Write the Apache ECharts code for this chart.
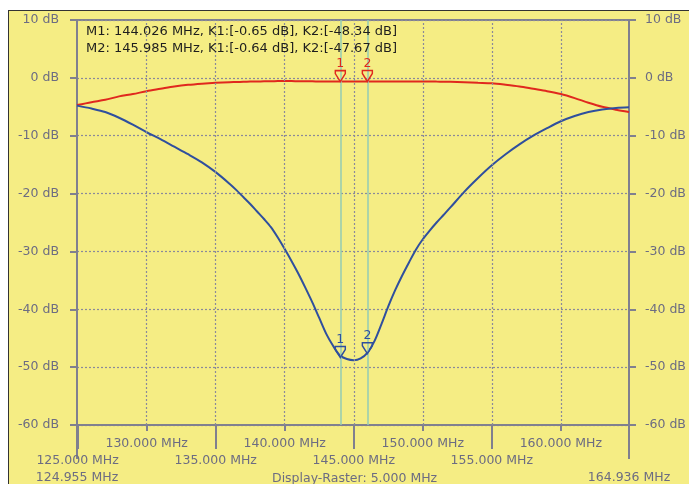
<!DOCTYPE html>
<html>
<head>
<meta charset="utf-8">
<script src="https://cdn.jsdelivr.net/npm/echarts@6/dist/echarts.min.js"></script>
<style>
  html, body { margin: 0; padding: 0; background: #fff; }
  #frame { position: absolute; left: 8px; top: 10px; width: 681px; height: 474px;
           background: #f5ed84; border-top: 1px solid #333; border-left: 1px solid #333; }
  #main { position: absolute; left: 0; top: 0; width: 689px; height: 484px; }
</style>
</head>
<body>
<div id="frame"></div>
<div id="main"></div>
<script>
// frequency points (MHz)
var freqs = [124.955, 126, 127, 128, 129, 130, 131, 132, 133, 134, 135,
             136, 136.5, 137, 137.5, 138, 138.5, 139, 139.5, 140, 140.5, 141, 141.5, 142, 142.5, 143, 143.5,
             144, 144.5, 145, 145.5, 146, 146.5, 147, 147.5, 148, 148.5, 149, 149.5, 150, 150.5, 151, 151.5, 152,
             153, 154, 155, 156, 157, 158, 159, 160, 161, 162, 163, 164, 164.936];
// K1 (red) transmission, dB
var k1 = [-4.7, -4.2, -3.8, -3.2, -2.8, -2.3, -1.9, -1.5, -1.2, -1.0, -0.85,
          -0.75, -0.72, -0.68, -0.65, -0.62, -0.6, -0.58, -0.56, -0.55, -0.56, -0.58, -0.59, -0.6, -0.62, -0.63, -0.64,
          -0.65, -0.65, -0.64, -0.64, -0.64, -0.63, -0.62, -0.62, -0.62, -0.62, -0.63, -0.63, -0.64, -0.64, -0.65, -0.66, -0.68,
          -0.75, -0.85, -0.95, -1.2, -1.5, -1.9, -2.3, -2.8, -3.5, -4.3, -5.0, -5.5, -5.9];
// K2 (blue) reflection, dB
var k2 = [-4.8, -5.3, -5.9, -6.9, -8.1, -9.4, -10.6, -11.9, -13.2, -14.6, -16.3,
          -18.3, -19.4, -20.6, -21.8, -23.1, -24.4, -25.8, -27.6, -29.6, -31.7, -33.9, -36.3, -38.8, -41.5, -44.2, -46.3,
          -48.0, -48.6, -48.8, -48.5, -47.5, -45.5, -42.6, -39.5, -36.7, -34.2, -31.9, -29.7, -27.9, -26.4, -25.0, -23.7, -22.4,
          -19.7, -17.3, -15.1, -13.2, -11.5, -10.0, -8.7, -7.5, -6.6, -5.9, -5.45, -5.2, -5.1];
// markers
var markerFreqs = [144.026, 145.985];
var markerK1 = [-0.65, -0.64];
var markerK2 = [-48.34, -47.67];
// axis ticks
var gridFreqs = [130, 135, 140, 145, 150, 155, 160];
var minorTickFreqs = [130, 140, 150, 160];
var majorTickFreqs = [125, 135, 145, 155];
var edgeFreqs = [124.955, 164.936];
var legendLines = [
  'M1: 144.026 MHz, K1:[-0.65 dB], K2:[-48.34 dB]',
  'M2: 145.985 MHz, K1:[-0.64 dB], K2:[-47.67 dB]'
];

var chart = echarts.init(document.getElementById('main'));

var FONT = 'DejaVu Sans';
var axisGray = '#80808f';
var labelColor = '#6c6c82';
var fmtMHz = function (v) { return v.toFixed(3) + ' MHz'; };

function xAxisRow(values, tickLen, margin, showLine) {
  return {
    type: 'value', min: edgeFreqs[0], max: edgeFreqs[1], position: 'bottom',
    axisLine: { show: showLine, onZero: false, lineStyle: { color: axisGray, width: 2 } },
    axisTick: { show: true, customValues: values, length: tickLen, lineStyle: { color: axisGray, width: 2 } },
    axisLabel: { customValues: values, margin: margin, formatter: fmtMHz,
                 color: labelColor, fontFamily: FONT, fontSize: 12.5 },
    splitLine: { show: false }
  };
}

function yAxisSide(pos, margin) {
  return {
    type: 'value', position: pos, min: -60, max: 10, interval: 10,
    axisLine: { show: true, lineStyle: { color: axisGray, width: 2 } },
    axisTick: { show: true, length: 7, lineStyle: { color: axisGray, width: 2 } },
    axisLabel: { margin: margin, formatter: '{value} dB', color: labelColor, fontFamily: FONT, fontSize: 12.5 },
    splitLine: { show: pos === 'left', lineStyle: { color: '#8a8a9a', type: [2, 2], width: 1.2 } }
  };
}

function markerPoints(vals, color) {
  return {
    symbol: 'path://M0,0 L10,0 L10,3 L5,11 L0,3 Z',
    symbolSize: [10, 11],
    symbolOffset: [0, '-50%'],
    itemStyle: { color: 'rgba(0,0,0,0)', borderColor: color, borderWidth: 1.5 },
    label: { show: true, position: 'top', distance: 0, color: color, fontFamily: FONT, fontSize: 12.5,
             formatter: function (p) { return String(p.dataIndex + 1); } },
    data: markerFreqs.map(function (f, i) { return { coord: [f, vals[i]] }; })
  };
}

var gridLines = gridFreqs.map(function (f) {
  return { xAxis: f, lineStyle: { color: '#8a8a9a', type: [2, 2], width: 1.2 } };
});
var markerLines = markerFreqs.map(function (f) {
  return { xAxis: f, lineStyle: { color: '#93cbb4', type: 'solid', width: 1.5 } };
});

var option = {
  animation: false,
  backgroundColor: 'transparent',
  grid: { left: 77, right: 60, top: 20, bottom: 58, show: true,
          borderColor: axisGray, borderWidth: 2, backgroundColor: 'transparent' },
  title: [
    { text: legendLines.join('\n'), left: 86, top: 23, padding: 0,
      textStyle: { fontFamily: FONT, fontSize: 13, fontWeight: 'normal', color: '#1e1e1e', lineHeight: 17 } },
    { text: 'Display-Raster: 5.000 MHz', left: 272, top: 472, padding: 0,
      textStyle: { fontFamily: FONT, fontSize: 12.5, fontWeight: 'normal', color: labelColor } }
  ],
  xAxis: [
    xAxisRow(minorTickFreqs, 6, 12, true),
    xAxisRow(majorTickFreqs, 24, 29, false),
    xAxisRow(edgeFreqs, 34, 46, false)
  ],
  yAxis: [yAxisSide('left', 18), yAxisSide('right', 16)],
  series: [
    {
      name: 'grid', type: 'line', data: [], silent: true,
      markLine: { silent: true, symbol: 'none', label: { show: false }, data: gridLines.concat(markerLines) }
    },
    {
      name: 'K1', type: 'line', showSymbol: false, smooth: 0.3,
      data: freqs.map(function (f, i) { return [f, k1[i]]; }),
      lineStyle: { color: '#e0281e', width: 2 }, itemStyle: { color: '#e0281e' },
      markPoint: markerPoints(markerK1, '#e0281e')
    },
    {
      name: 'K2', type: 'line', showSymbol: false, smooth: 0.3,
      data: freqs.map(function (f, i) { return [f, k2[i]]; }),
      lineStyle: { color: '#2f4f9e', width: 2 }, itemStyle: { color: '#2f4f9e' },
      markPoint: markerPoints(markerK2, '#2f4f9e')
    }
  ]
};

chart.setOption(option);
</script>
</body>
</html>
